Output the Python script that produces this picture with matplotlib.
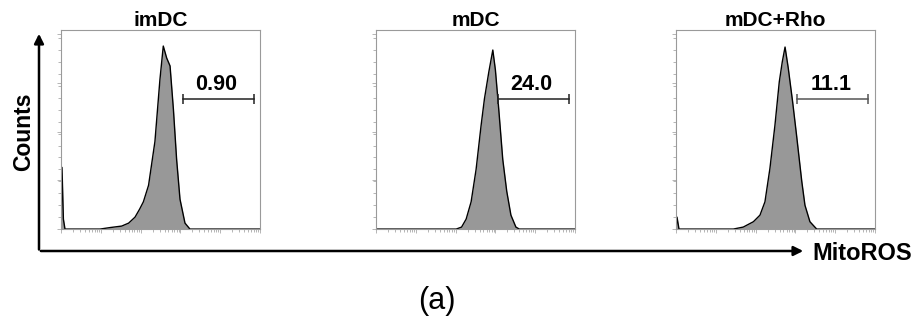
import numpy as np
import matplotlib.pyplot as plt
from matplotlib.patches import FancyArrowPatch

plt.rcParams['font.family'] = ['Liberation Sans', 'DejaVu Sans']

# Histogram outlines (x = MitoROS position, y = relative counts)
samples = ['imDC', 'mDC', 'mDC+Rho']

imdc_x = [0.0, 0.005, 0.012, 0.02, 0.196, 0.25, 0.305, 0.34, 0.372, 0.395, 0.414, 0.44, 0.472, 0.497,
          0.514, 0.531, 0.548, 0.565, 0.581, 0.598, 0.623, 0.648, 1.0]
imdc_y = [0.0, 0.31, 0.05, 0.0, 0.0, 0.008, 0.015, 0.03, 0.06, 0.1, 0.137, 0.22, 0.44, 0.75,
          0.92, 0.86, 0.82, 0.60, 0.35, 0.15, 0.03, 0.0, 0.0]

mdc_x = [0.0, 0.403, 0.43, 0.453, 0.478, 0.503, 0.528, 0.545, 0.567, 0.587, 0.6, 0.617, 0.637,
         0.657, 0.678, 0.703, 0.72, 1.0]
mdc_y = [0.0, 0.0, 0.01, 0.05, 0.137, 0.30, 0.52, 0.655, 0.79, 0.90, 0.80, 0.60, 0.35,
         0.19, 0.07, 0.01, 0.0, 0.0]

rho_x = [0.0, 0.005, 0.015, 0.288, 0.338, 0.389, 0.422, 0.447, 0.472, 0.497, 0.519, 0.534, 0.548,
         0.564, 0.586, 0.606, 0.632, 0.648, 0.673, 0.707, 1.0]
rho_y = [0.0, 0.06, 0.0, 0.0, 0.01, 0.037, 0.07, 0.137, 0.305, 0.52, 0.74, 0.84, 0.915,
         0.81, 0.64, 0.47, 0.24, 0.12, 0.037, 0.0, 0.0]

curves_x = [imdc_x, mdc_x, rho_x]
curves_y = [imdc_y, mdc_y, rho_y]

# Gates and percentages
gate_start = [0.611, 0.612, 0.61]
gate_end = [0.971, 0.97, 0.966]
gate_y = [0.653, 0.653, 0.655]
gate_labels = ['0.90', '24.0', '11.1']
gate_colors = ['#222222', '#222222', '#555555']

fig = plt.figure(figsize=(9.14, 3.24), dpi=100)
lefts = [61 / 914, 376 / 914, 676 / 914]
decade = np.log10(np.arange(1, 10)) * 0.2
minor_x = np.concatenate([d + decade[1:] for d in np.arange(0, 1.0, 0.2)])

for i in range(3):
    ax = fig.add_axes([lefts[i], 0.293, 199 / 914, 0.614])
    ax.fill_between(curves_x[i], curves_y[i], color='#989898', lw=0)
    ax.plot(curves_x[i], curves_y[i], color='black', lw=1.0)
    ax.plot([gate_start[i], gate_end[i]], [gate_y[i], gate_y[i]], color=gate_colors[i], lw=1.1,
            marker='|', markersize=7, markeredgewidth=1.1)
    ax.text((gate_start[i] + gate_end[i]) / 2 - 0.01, gate_y[i] + 0.02, gate_labels[i],
            ha='center', va='bottom', fontsize=15.5, fontweight='bold')
    ax.set_title(samples[i], fontsize=15, fontweight='bold', pad=3)
    ax.set_xlim(0, 1)
    ax.set_ylim(0, 1)
    ax.set_xticks(np.arange(0, 1.01, 0.2))
    ax.set_xticks(minor_x, minor=True)
    ax.set_yticks([0, 0.245, 0.49, 0.735, 0.98])
    ax.set_yticks(np.arange(0, 1.0, 0.06), minor=True)
    ax.tick_params(which='both', color='#aaaaaa', labelbottom=False, labelleft=False, width=0.6)
    ax.tick_params(which='major', length=3)
    ax.tick_params(which='minor', length=2)
    for s in ax.spines.values():
        s.set_color('#9a9a9a')
        s.set_linewidth(0.8)

# Big axis arrows
y0 = 1 - 251 / 324
x0 = 39 / 914
fig.patches.append(FancyArrowPatch(
    (x0, y0 - 0.004), (x0, 1 - 31 / 324), transform=fig.transFigure,
    arrowstyle='-|>', mutation_scale=14, lw=1.8, color='black'))
fig.patches.append(FancyArrowPatch(
    (x0 - 0.001, y0), (806 / 914, y0), transform=fig.transFigure,
    arrowstyle='-|>', mutation_scale=14, lw=1.8, color='black'))

fig.text(24 / 914, 1 - 132 / 324, 'Counts', rotation=90, ha='center', va='center',
         fontsize=16.5, fontweight='bold')
fig.text(812 / 914, 1 - 254 / 324, 'MitoROS', ha='left', va='center', fontsize=17, fontweight='bold')
fig.text(437 / 914, 1 - 301 / 324, '(a)', ha='center', va='center', fontsize=22)

fig.savefig('out.png', dpi=100)
